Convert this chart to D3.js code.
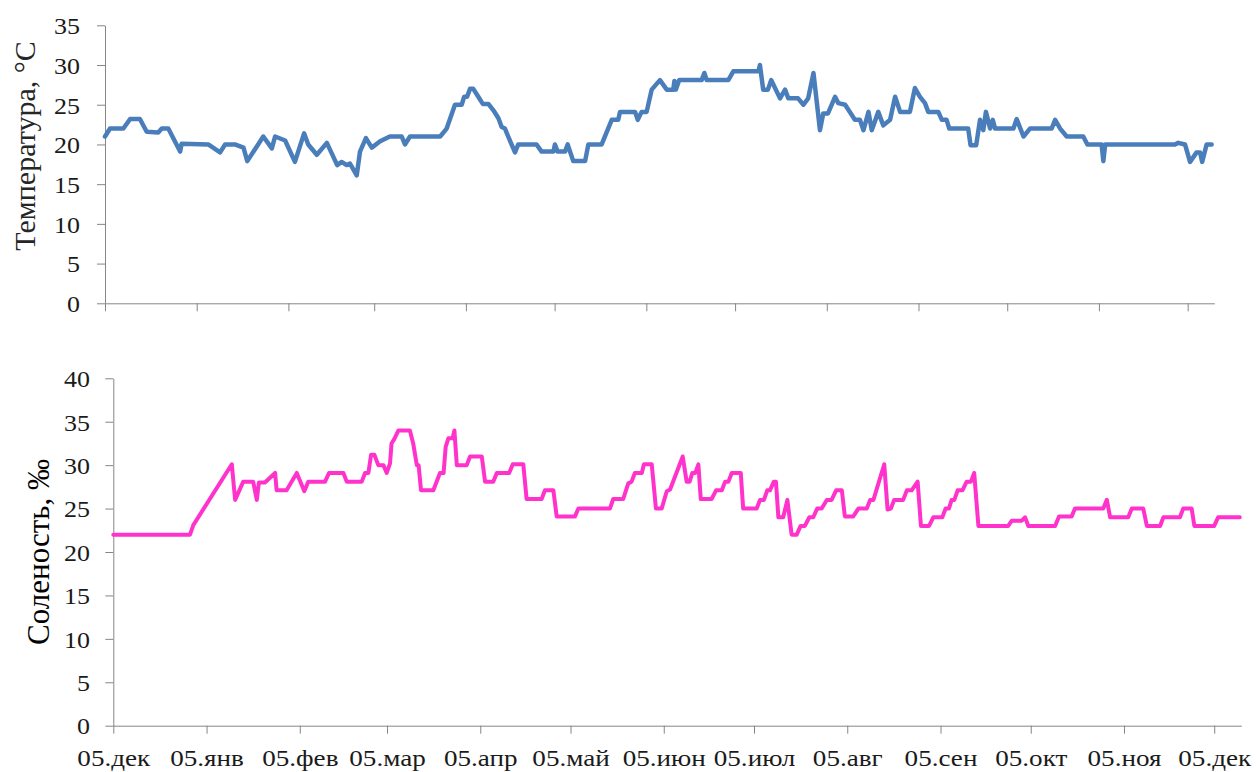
<!DOCTYPE html>
<html><head><meta charset="utf-8">
<script src="https://cdn.jsdelivr.net/npm/d3@7"></script>
<style>
body{margin:0;background:#fff}
svg{display:block}
</style>
</head><body>
<svg id="c" width="1256" height="772"></svg>
<script>
// ---------- data ----------
const startDate = "2011-12-05";
const spanDays = 375;
const monthTicks = ["2011-12-05","2012-01-05","2012-02-05","2012-03-05","2012-04-05","2012-05-05","2012-06-05","2012-07-05","2012-08-05","2012-09-05","2012-10-05","2012-11-05","2012-12-05"];
const monthLabels = ["05.дек","05.янв","05.фев","05.мар","05.апр","05.май","05.июн","05.июл","05.авг","05.сен","05.окт","05.ноя","05.дек"];
const tempTicks = [0,5,10,15,20,25,30,35];
const salTicks = [0,5,10,15,20,25,30,35,40];

// temperature: days since start, value (°C)
const tempDay = [0,1.7,6.2,8.5,11.8,14.1,18.0,19.2,21.4,25.4,25.9,34.9,38.9,40.6,43.9,46.8,48.1,53.5,56.4,57.5,60.9,64.2,67.3,68.7,71.6,75.0,78.5,80.0,81.7,82.8,85.1,86.2,88.2,90.2,93.0,96.3,100.3,101.4,103.1,113.3,115.5,118.3,120.6,121.4,122.4,123.4,124.5,126.2,127.7,129.6,131.3,133.0,134.1,135.2,136.3,138.6,139.7,145.9,147.6,151.6,152.1,153.0,155.5,156.4,158.3,162.3,163.4,167.9,171.3,173.5,174.1,179.2,180.1,181.4,183.1,184.8,187.6,189.9,192.1,192.5,193.0,194.1,201.7,202.6,203.4,210.7,212.4,220.9,221.4,222.5,224.1,225.2,228.2,229.9,231.0,234.3,236.1,237.7,239.5,241.7,242.8,244.4,246.8,247.9,250.2,253.5,255.2,256.4,258.1,259.2,261.4,263.1,265.4,267.1,268.8,272.1,273.8,275.5,277.2,278.3,281.7,282.9,284.5,285.4,291.8,292.6,294.5,295.8,296.9,297.8,299.2,300.1,300.9,307.1,308.2,310.5,312.7,320.0,321.2,322.9,325.1,330.7,332.1,336.9,337.5,338.1,361.7,362.8,365.1,366.8,369.0,370.2,370.9,372.4,374.1];
const tempValue = [21,22,22,23.2,23.2,21.6,21.5,22,22,19.1,20.1,20,19,20,20,19.6,17.9,21,19.5,21,20.5,17.8,21.4,20,18.7,20.2,17.4,17.8,17.4,17.6,16.1,19.1,20.8,19.6,20.4,21,21,20,21,21,22,25,25,26,26,27,27,26,25.1,25.1,24.3,23.3,22.2,22,21,19,20,20,19.1,19.1,20,19.1,19.1,20,17.9,17.9,20,20,23.1,23.1,24.1,24.1,23.1,24.1,24.1,26.9,28.1,26.9,26.9,28,26.9,28.1,28.1,29,28.1,28.1,29.2,29.2,30,26.9,26.9,28.1,25.8,26.9,25.8,25.8,25,25.8,29,21.8,23.9,23.9,26,25.2,25,23.1,23.1,21.8,24.1,21.8,24.1,22.4,23.1,26,24.1,24.1,27.1,26,25.2,24.1,24.1,23.1,23.1,22,22,19.9,19.9,23.1,21.8,24.1,22,23.1,22,22,23.2,21,22,22,23.1,22,21,21,20,20,17.9,20,20,20.2,20,17.8,19,19,17.8,20,20];

// salinity: days since start, value (‰)
const salDay = [0,25.5,26.6,39.4,40.5,43.2,46.5,47.7,48.4,50.4,53.8,54.3,57.6,61.0,63.5,64.8,70.4,71.7,76.5,77.6,82.6,83.7,84.8,85.7,86.8,88.1,89.8,90.9,92.0,92.5,93.4,94.8,98.6,99.7,100.9,101.5,102.3,106.4,108.6,109.8,110.5,111.4,112.8,113.4,114.2,117.5,118.6,122.5,123.6,126.3,127.5,131.6,132.8,136.3,137.4,142.4,143.5,146.3,147.4,153.5,154.6,165.1,166.2,169.5,171.2,172.3,173.4,175.7,176.4,179.0,180.4,182.3,184.0,185.1,189.3,190.6,191.6,192.5,193.5,194.5,195.3,198.9,200.4,202.3,203.4,204.5,205.6,208.6,209.4,213.9,215.0,216.3,217.4,218.3,219.6,220.3,221.1,222.7,224.1,225.5,227.2,228.5,229.9,231.4,232.7,234.0,235.5,237.2,238.8,240.3,242.2,243.2,246.0,247.7,250.5,251.6,252.7,256.3,257.4,258.5,259.6,262.6,263.8,265.4,267.4,268.5,271.2,272.6,275.6,276.7,277.8,278.7,279.6,280.7,282.3,283.7,285.1,286.2,287.6,297.5,298.7,302.0,303.1,304.2,313.1,314.4,318.6,319.7,329.1,330.3,331.4,337.4,338.6,342.4,343.6,348.0,349.1,354.6,355.7,358.5,359.4,366.0,367.3,374.5];
const salValue = [22,22,23.1,30.1,26,28.1,28.1,26,28,28,29.1,27.1,27.1,29.1,27,28.1,28.1,29.1,29.1,28.1,28.1,29.1,29.1,31.2,31.2,30,30,29.1,30.2,32.5,33,34,34,32.5,30,30,27.1,27.1,29.1,29.1,32.1,33.1,33.1,34,30,30,31,31,28.1,28.1,29.1,29.1,30.1,30.1,26.1,26.1,27.1,27.1,24.1,24.1,25,25,26.1,26.1,27.9,28.1,29.1,29.1,30.1,30.1,25,25,27,27.2,31,28.1,28.1,29.1,29.1,30.1,26.1,26.1,27.1,27.1,28.1,28.1,29.1,29.1,25,25,26,26,27.1,27.1,28.1,28.1,24,24,26,22,22,23,23,24,24,25,25,26,26,27.1,27.1,24.1,24.1,25,25,26,26,30.1,24.9,25,26,26,27.1,27.1,28.1,23,23,24,24,25,25,26,26,27.1,27.1,28.1,28.1,29.1,23,23,23.6,23.6,24,23,23,24.1,24.1,25,25,26,24,24,25,25,23,23,24,24,25,25,23,23,24,24];

// ---------- drawing ----------
const FONT = "Liberation Serif";
const parse = d3.utcParse("%Y-%m-%d");
const t0 = parse(startDate);
const dayToDate = d => new Date(t0.getTime() + d * 86400000);
const domainX = [t0, dayToDate(spanDays)];
const tickDates = monthTicks.map(parse);

const svg = d3.select("#c");
const axisColor = "#868686";
const textColor = "#1a1a1a";
const stretch = 1.13;

function styleAxis(g, size){
  g.attr("font-family", FONT).attr("font-size", size);
  g.selectAll("path.domain").attr("stroke", axisColor).attr("stroke-width", 1);
  g.selectAll(".tick line").attr("stroke", axisColor).attr("stroke-width", 1);
  g.selectAll("text").attr("fill", textColor)
    .attr("font-family", FONT).attr("font-size", size);
}

// ---- top: temperature ----
const xT = d3.scaleUtc().domain(domainX).range([105, 1214.3]);
const yT = d3.scaleLinear().domain([0, 35]).range([303.3, 25.3]);

const gyT = svg.append("g").attr("transform", "translate(105,0)")
  .call(d3.axisLeft(yT).tickValues(tempTicks).tickSize(8).tickSizeOuter(0));
styleAxis(gyT, 23);
gyT.selectAll(".tick text").attr("x", -25/stretch).attr("dy", "0.36em")
  .attr("transform", `scale(${stretch},1)`);

const gxT = svg.append("g").attr("transform", "translate(0,303.3)")
  .call(d3.axisBottom(xT).tickValues(tickDates).tickSize(8).tickSizeOuter(0).tickFormat(""));
styleAxis(gxT, 23);

const tempData = tempDay.map((d,i) => ({date: dayToDate(d), v: tempValue[i]}));
svg.append("path").datum(tempData)
  .attr("fill", "none").attr("stroke", "#4a7ebb").attr("stroke-width", 4.5)
  .attr("stroke-linejoin", "round").attr("stroke-linecap", "round")
  .attr("d", d3.line().x(d => xT(d.date)).y(d => yT(d.v)));

svg.append("text")
  .attr("transform", "translate(24,146) rotate(-90)")
  .attr("text-anchor", "middle").attr("dominant-baseline", "central")
  .attr("fill", "#262626").attr("font-family", FONT).attr("font-size", 30)
  .text("Температура, °С");

// ---- bottom: salinity ----
const xS = d3.scaleUtc().domain(domainX).range([113.3, 1241.3]);
const yS = d3.scaleLinear().domain([0, 40]).range([725.7, 378.3]);

const gyS = svg.append("g").attr("transform", "translate(113.3,0)")
  .call(d3.axisLeft(yS).tickValues(salTicks).tickSize(8).tickSizeOuter(0));
styleAxis(gyS, 23);
gyS.selectAll(".tick text").attr("x", -23.3/stretch).attr("dy", "0.36em")
  .attr("transform", `scale(${stretch},1)`);

const gxS = svg.append("g").attr("transform", "translate(0,725.7)")
  .call(d3.axisBottom(xS).tickValues(tickDates).tickSize(8).tickSizeOuter(0)
    .tickFormat((d,i) => monthLabels[i]));
styleAxis(gxS, 24);
gxS.selectAll(".tick text").attr("y", 40).attr("dy", 0)
  .attr("transform", `scale(${stretch},1)`);

const salData = salDay.map((d,i) => ({date: dayToDate(d), v: salValue[i]}));
svg.append("path").datum(salData)
  .attr("fill", "none").attr("stroke", "#ff33cc").attr("stroke-width", 4)
  .attr("stroke-linejoin", "round").attr("stroke-linecap", "round")
  .attr("d", d3.line().x(d => xS(d.date)).y(d => yS(d.v)));

svg.append("text")
  .attr("transform", "translate(38,552) rotate(-90)")
  .attr("text-anchor", "middle").attr("dominant-baseline", "central")
  .attr("fill", "#000").attr("font-family", FONT).attr("font-size", 31)
  .text("Соленость, ‰");
</script>
</body></html>
